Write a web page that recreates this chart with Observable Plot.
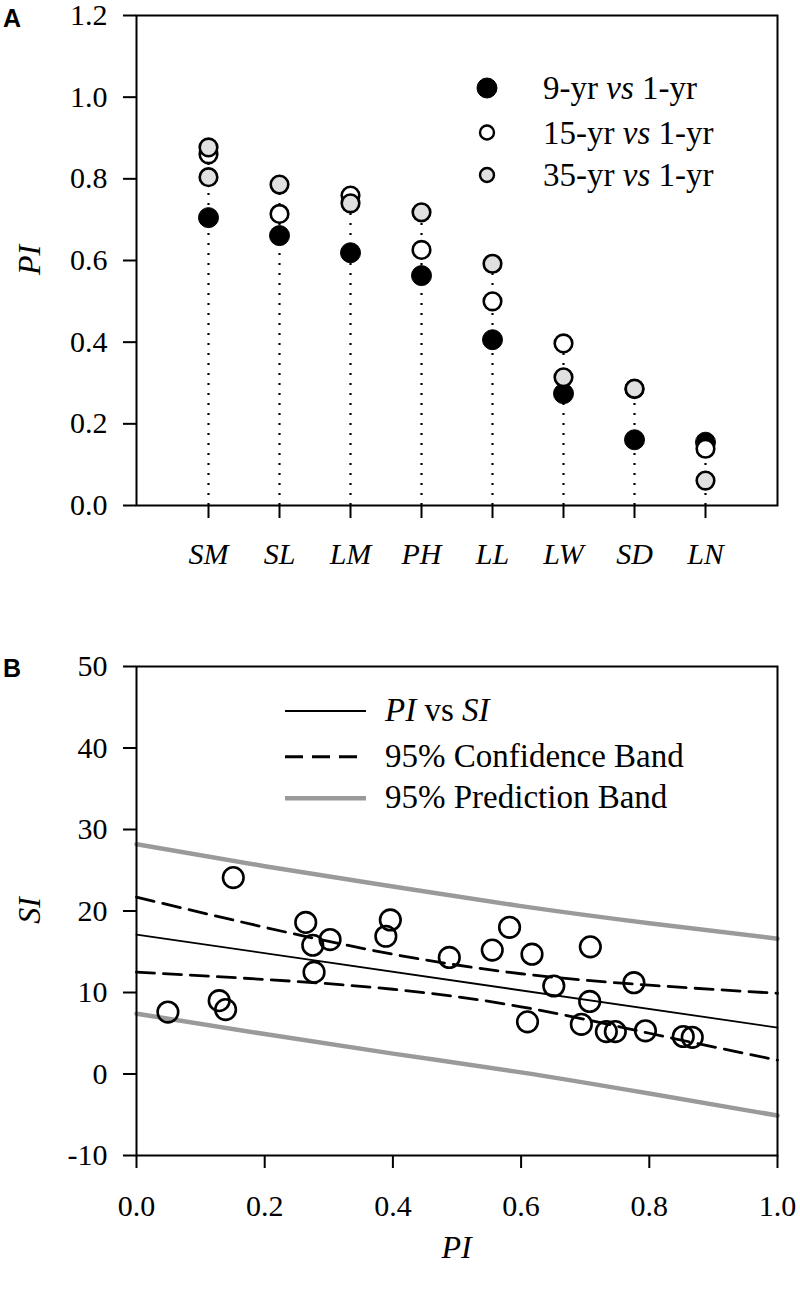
<!DOCTYPE html>
<html>
<head>
<meta charset="utf-8">
<script src="https://cdn.jsdelivr.net/npm/d3@7"></script>
<script src="https://cdn.jsdelivr.net/npm/@observablehq/plot@0.6"></script>
<style>
  body { margin: 0; background: #fff; }
  #chart { width: 800px; }
  #chart svg { display: block; }
</style>
</head>
<body>
<div id="chart"></div>
<script>
// ---------- Panel A data ----------
const traits = ["SM", "SL", "LM", "PH", "LL", "LW", "SD", "LN"];
const pi9vs1 = [0.705, 0.661, 0.619, 0.563, 0.406, 0.274, 0.161, 0.155];
const pi15vs1 = [0.860, 0.714, 0.759, 0.626, 0.500, 0.397, 0.285, 0.139];
const pi35vs1 = [0.877, 0.786, 0.740, 0.718, 0.592, 0.314, 0.286, 0.061];
const extraTraits = ["SM"];
const extraValues = [0.804];
const yTicksA = [0, 0.2, 0.4, 0.6, 0.8, 1.0, 1.2];
const legendA = ["9-yr", "15-yr", "35-yr"];

// ---------- Panel B data ----------
const scatterPI = [0.049, 0.129, 0.139, 0.151, 0.264, 0.275, 0.277, 0.302, 0.389, 0.396, 0.488, 0.555, 0.582,
                   0.610, 0.617, 0.651, 0.694, 0.707, 0.708, 0.733, 0.747, 0.776, 0.794, 0.853, 0.867];
const scatterSI = [7.6, 9.0, 7.9, 24.1, 18.6, 15.8, 12.5, 16.5, 16.9, 18.9, 14.3, 15.2, 18.0,
                   6.4, 14.7, 10.8, 6.1, 8.9, 15.6, 5.2, 5.2, 11.2, 5.3, 4.6, 4.5];
const fitX = [0, 1];
const fitY = [17.1, 5.7];
const bandX = [0, 0.2, 0.4, 0.6, 0.8, 1.0];
const confUpper = [21.7, 18.0, 14.7, 12.3, 10.9, 9.9];
const confLower = [12.5, 11.6, 10.4, 8.25, 5.0, 1.7];
const predUpper = [28.2, 25.5, 23.0, 20.6, 18.5, 16.6];
const predLower = [7.4, 4.9, 2.5, 0.2, -2.4, -5.1];
const xTicksB = [0, 0.2, 0.4, 0.6, 0.8, 1.0];
const yTicksB = [-10, 0, 10, 20, 30, 40, 50];
const legendB = ["95% Confidence Band", "95% Prediction Band"];

const serif = "'Liberation Serif', 'Times New Roman', serif";
const sans = "'Liberation Sans', Arial, sans-serif";
const grayFill = "#e0e0e0";
const grayLine = "#9a9a9a";

// tables
const rowsA = traits.map((t, i) => ({trait: t, a: pi9vs1[i], b: pi15vs1[i], c: pi35vs1[i]}));
const extraRows = extraTraits.map((t, i) => ({trait: t, c: extraValues[i]}));
rowsA.forEach(r => {
  const ex = extraRows.filter(e => e.trait === r.trait).map(e => e.c);
  r.top = Math.max(r.a, r.b, r.c, ...ex);
});
const pts = scatterPI.map((x, i) => ({x, y: scatterSI[i]}));
const toXY = (xs, ys) => xs.map((x, i) => ({x, y: ys[i]}));

function custom(draw) {
  return (index, scales, values, dims) => {
    const g = d3.create("svg:g").attr("text-anchor", "start");
    draw(g, dims, scales);
    return g.node();
  };
}

const axisText = {fontFamily: serif, fontSize: 30, fontVariant: "normal", fill: "black", stroke: "black", strokeWidth: 2};

// ---------- Panel A ----------
const plotA = Plot.plot({
  width: 800,
  height: 600,
  marginLeft: 136,
  marginRight: 23,
  marginTop: 15,
  marginBottom: 95,
  style: {fontFamily: serif, fontSize: "30px", color: "black", background: "white", overflow: "visible"},
  x: {type: "point", domain: traits, padding: 1},
  y: {domain: [0, 1.2]},
  marks: [
    Plot.ruleX(rowsA, {x: "trait", y1: 0, y2: "top", stroke: "black", strokeWidth: 2.2, strokeDasharray: "2,8"}),
    Plot.dot(rowsA, {x: "trait", y: "a", r: 10, fill: "black", stroke: "black", strokeWidth: 1}),
    Plot.dot(rowsA, {x: "trait", y: "b", r: 8.8, fill: "white", stroke: "black", strokeWidth: 2.6}),
    Plot.dot(extraRows, {x: "trait", y: "c", r: 8.8, fill: grayFill, stroke: "black", strokeWidth: 2.6}),
    Plot.dot(rowsA, {x: "trait", y: "c", r: 8.8, fill: grayFill, stroke: "black", strokeWidth: 2.6}),
    Plot.frame({stroke: "black", strokeWidth: 2}),
    Plot.axisY({...axisText, ticks: yTicksA, tickFormat: d3.format(".1f"), tickSize: 13, tickPadding: 16, label: null}),
    Plot.axisX({...axisText, tickSize: 13, tickPadding: 24, fontStyle: "italic", label: null}),
    custom((g, dims) => {
      g.append("text").attr("x", 3).attr("y", 27)
        .attr("font-family", sans).attr("font-weight", "bold").attr("font-size", 25).text("A");
      g.append("text").attr("transform", `translate(40,${(dims.marginTop + dims.height - dims.marginBottom) / 2}) rotate(-90)`)
        .attr("text-anchor", "middle").attr("font-family", serif).attr("font-style", "italic")
        .attr("font-size", 32).text("PI");
      const rows = [88, 132.5, 175];
      const syms = [
        {r: 10, fill: "black", stroke: "black", sw: 1},
        {r: 7, fill: "white", stroke: "black", sw: 2.4},
        {r: 7, fill: grayFill, stroke: "black", sw: 2.4}
      ];
      rows.forEach((cy, i) => {
        g.append("circle").attr("cx", 487).attr("cy", cy).attr("r", syms[i].r)
          .attr("fill", syms[i].fill).attr("stroke", syms[i].stroke).attr("stroke-width", syms[i].sw);
        const t = g.append("text").attr("x", 543).attr("y", cy + 11)
          .attr("font-family", serif).attr("font-size", 33);
        t.append("tspan").text(legendA[i] + " ");
        t.append("tspan").attr("font-style", "italic").text("vs");
        t.append("tspan").text(" 1-yr");
      });
    })
  ]
});

// ---------- Panel B ----------
const plotB = Plot.plot({
  width: 800,
  height: 689,
  marginLeft: 136,
  marginRight: 23,
  marginTop: 66,
  marginBottom: 134,
  style: {fontFamily: serif, fontSize: "30px", color: "black", background: "white", overflow: "visible"},
  x: {domain: [0, 1]},
  y: {domain: [-10, 50]},
  marks: [
    Plot.line(toXY(bandX, predUpper), {x: "x", y: "y", stroke: grayLine, strokeWidth: 4.5, curve: "natural"}),
    Plot.line(toXY(bandX, predLower), {x: "x", y: "y", stroke: grayLine, strokeWidth: 4.5, curve: "natural"}),
    Plot.line(toXY(bandX, confUpper), {x: "x", y: "y", stroke: "black", strokeWidth: 2.8, strokeDasharray: "18,9", curve: "natural"}),
    Plot.line(toXY(bandX, confLower), {x: "x", y: "y", stroke: "black", strokeWidth: 2.8, strokeDasharray: "18,9", curve: "natural"}),
    Plot.line(toXY(fitX, fitY), {x: "x", y: "y", stroke: "black", strokeWidth: 1.8}),
    Plot.dot(pts, {x: "x", y: "y", r: 10.3, fill: "none", stroke: "black", strokeWidth: 2.6}),
    Plot.frame({stroke: "black", strokeWidth: 2}),
    Plot.axisY({...axisText, ticks: yTicksB, tickFormat: d => String(d), tickSize: 13, tickPadding: 16, label: null}),
    Plot.axisX({...axisText, ticks: xTicksB, tickFormat: d3.format(".1f"), tickSize: 13, tickPadding: 26, label: null}),
    custom((g, dims) => {
      const midY = (dims.marginTop + dims.height - dims.marginBottom) / 2;
      const midX = (dims.marginLeft + dims.width - dims.marginRight) / 2;
      g.append("text").attr("x", 3).attr("y", 77)
        .attr("font-family", sans).attr("font-weight", "bold").attr("font-size", 25).text("B");
      g.append("text").attr("transform", `translate(40,${midY}) rotate(-90)`)
        .attr("text-anchor", "middle").attr("font-family", serif).attr("font-style", "italic")
        .attr("font-size", 32).text("SI");
      g.append("text").attr("x", midX).attr("y", 658)
        .attr("text-anchor", "middle").attr("font-family", serif).attr("font-style", "italic")
        .attr("font-size", 32).text("PI");
      const rows = [111, 156.7, 198.3];
      const lines = [
        {stroke: "black", sw: 2, dash: null},
        {stroke: "black", sw: 3, dash: "18,9"},
        {stroke: grayLine, sw: 4.5, dash: null}
      ];
      rows.forEach((cy, i) => {
        const l = g.append("line").attr("x1", 285).attr("x2", 366).attr("y1", cy).attr("y2", cy)
          .attr("stroke", lines[i].stroke).attr("stroke-width", lines[i].sw);
        if (lines[i].dash) l.attr("stroke-dasharray", lines[i].dash);
        const t = g.append("text").attr("x", 385).attr("y", cy + 10)
          .attr("font-family", serif).attr("font-size", 33);
        if (i === 0) {
          t.append("tspan").attr("font-style", "italic").text("PI");
          t.append("tspan").text(" vs ");
          t.append("tspan").attr("font-style", "italic").text("SI");
        } else {
          t.text(legendB[i - 1]);
        }
      });
    })
  ]
});

const chart = document.getElementById("chart");
chart.appendChild(plotA);
chart.appendChild(plotB);
</script>
</body>
</html>
